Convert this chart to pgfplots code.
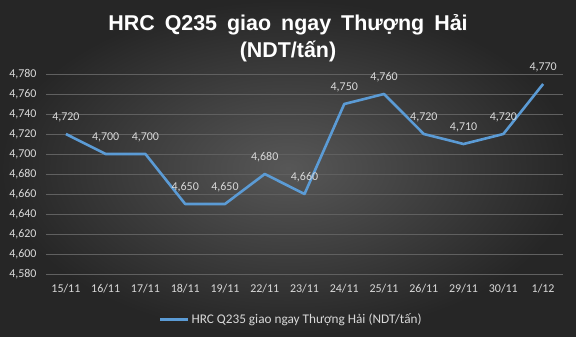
\documentclass[border=0pt]{standalone}
\usepackage{fontspec}
\setmainfont{Liberation Sans}
\newfontfamily\calibri{Carlito}
\usepackage{pgfplots}
\pgfplotsset{compat=1.18}
\definecolor{bgin}{HTML}{575757}
\definecolor{bgout}{HTML}{262626}
\definecolor{txt}{HTML}{D9D9D9}
\definecolor{gridc}{HTML}{606060}
\definecolor{linec}{HTML}{5B9BD5}
\newcommand\ts{\hspace{10bp}}
\begin{document}
\begin{tikzpicture}[x=1bp,y=1bp]
\shade[inner color=bgin, outer color=bgout] (0,0) rectangle (576,336);
\path[use as bounding box] (0,0) rectangle (576,336);
\tikzset{ttl/.style={font=\fontsize{21.5}{24}\selectfont\bfseries, anchor=base, inner sep=0pt}}
\node[ttl, text=black!80, opacity=0.6] at (289,304.3) {HRC\ts Q235\ts giao\ts ngay\ts Thượng\ts Hải};
\node[ttl, text=black!80, opacity=0.6] at (289,278) {(NDT/tấn)};
\node[ttl, text=white] at (288,305.3) {HRC\ts Q235\ts giao\ts ngay\ts Thượng\ts Hải};
\node[ttl, text=white] at (288,279) {(NDT/tấn)};
\begin{axis}[
  at={(46bp,62bp)}, anchor=south west, scale only axis,
  width=517bp, height=200bp,
  xmin=-0.5, xmax=12.5, ymin=4580, ymax=4780,
  ytick={4580,4600,...,4780},
  xtick={0,...,12},
  xticklabels={15/11,16/11,17/11,18/11,19/11,22/11,23/11,24/11,25/11,26/11,29/11,30/11,1/12},
  axis line style={draw=none},
  major tick length=0pt,
  ymajorgrids, grid style={gridc, line width=0.75pt},
  tick label style={text=txt, font=\calibri\fontsize{12}{14}\selectfont},
  /pgf/number format/assume math mode=true,
  /pgf/number format/1000 sep={,},
  yticklabel style={anchor=east, xshift=-6bp},
  xticklabel style={anchor=center, yshift=-15bp},
  clip=false,
  legend style={at={(0.474,-0.225)}, anchor=center, draw=none, fill=none,
    text=txt, font=\calibri\fontsize{13.3}{15}\selectfont, inner sep=0pt,
    /tikz/every even column/.append style={column sep=0pt}},
  legend image code/.code={\draw[linec, line width=3bp] (0bp,0bp) -- (28bp,0bp);},
  nodes near coords,
  every node near coord/.append style={text=txt, font=\calibri\fontsize{12}{14}\selectfont, anchor=center, yshift=17bp,
    /pgf/number format/assume math mode=true, /pgf/number format/1000 sep={,}},
]
\addplot[linec, line width=2.6bp, line join=round, mark=none] coordinates {
(0,4720) (1,4700) (2,4700) (3,4650) (4,4650) (5,4680) (6,4660)
(7,4750) (8,4760) (9,4720) (10,4710) (11,4720) (12,4770)};
\addlegendentry{HRC Q235 giao ngay Thượng Hải (NDT/tấn)}
\end{axis}
\end{tikzpicture}
\end{document}
